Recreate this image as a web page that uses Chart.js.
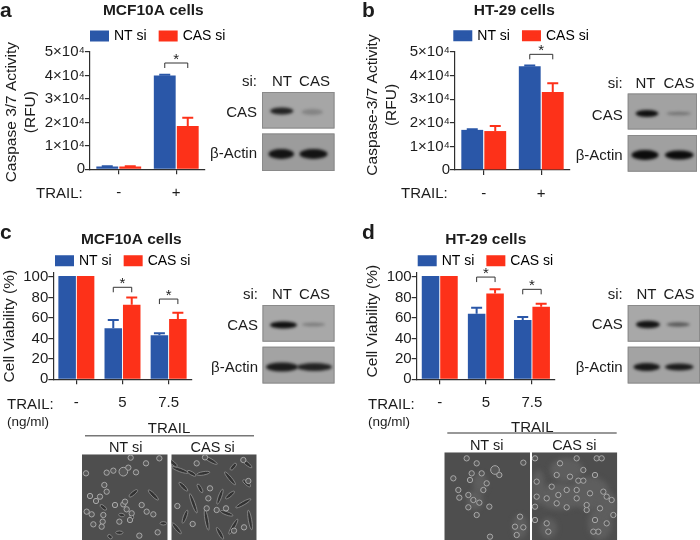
<!DOCTYPE html>
<html><head><meta charset="utf-8">
<script src="https://cdn.jsdelivr.net/npm/chart.js@4"></script>
<style>
html,body{margin:0;padding:0;background:#fff;width:700px;height:540px;overflow:hidden;font-family:"Liberation Sans",Arial,sans-serif;color:#1c1c1c}
canvas{position:absolute}
.t{position:absolute;white-space:nowrap;line-height:1;z-index:5}
</style></head><body>
<canvas id="decor" width="700" height="540" style="left:0;top:0"></canvas>
<script>
// ---------- data ----------
const seriesNames = ['NT si', 'CAS si'];
const catsTrailAB = ['-', '+'];
const catsTrailCD = ['-', '5', '7.5'];
const ticksRFU = ['0', '1×10⁴', '2×10⁴', '3×10⁴', '4×10⁴', '5×10⁴'];

const aNT = [1200, 40000];
const aCAS = [1200, 18500];
const aNTErr = [1300, 40300];
const aCASErr = [1300, 22000];

const bNT = [17000, 44000];
const bCAS = [16500, 33000];
const bNTErr = [17300, 44300];
const bCASErr = [18600, 36700];

const cNT = [101, 50, 43];
const cCAS = [101, 73, 59];
const cNTErr = [101, 58, 45];
const cCASErr = [101, 80, 65];

const dNT = [101, 64, 58];
const dCAS = [101, 84, 71];
const dNTErr = [101, 70, 61];
const dCASErr = [101, 88, 74];

// significance: [category index, bracket top value]
const aSig = [[1, 45300]];
const bSig = [[1, 49000]];
const cSig = [[1, 90], [2, 78.5]];
const dSig = [[1, 100], [2, 88]];

// ---------- shared style ----------
const BLUE = '#2a57a8', RED = '#fd3119', INK = '#1c1c1c', AXIS = '#2e2e2e';
const FONT = '"Liberation Sans", Arial, sans-serif';

const overlay = {
  id: 'overlay',
  afterLayout(chart, args, o) {
    const tb = chart.titleBlock;
    tb.left = o.titleX - 120; tb.right = o.titleX + 120; tb.top = o.titleY - 9; tb.bottom = o.titleY + 9;
    const lg = chart.legend, p = lg.options.labels.padding;
    lg.left = o.legendX + 2 - p; lg.right = lg.left + 400; lg.top = o.legendY - p - 7;
    const ys = chart.scales.y;
    if (!ys._wrappedTitle) {
      ys._wrappedTitle = true;
      const orig = ys.drawTitle;
      ys.drawTitle = function () {
        const c = this.ctx; c.save(); c.translate(o.ytDx, o.ytDy); orig.call(this); c.restore();
      };
    }
  },
  afterDatasetsDraw(chart, args, o) {
    const c = chart.ctx, y = chart.scales.y;
    chart.data.datasets.forEach((ds, di) => {
      const meta = chart.getDatasetMeta(di);
      ds.errTop.forEach((e, i) => {
        if (e <= ds.data[i]) return;
        const x = meta.data[i].x, y0 = y.getPixelForValue(ds.data[i]), y1 = y.getPixelForValue(e);
        c.save(); c.strokeStyle = ds.backgroundColor; c.lineWidth = 2;
        c.beginPath(); c.moveTo(x, y0); c.lineTo(x, y1);
        c.moveTo(x - 5.5, y1); c.lineTo(x + 5.5, y1); c.stroke(); c.restore();
      });
    });
    o.sig.forEach(([cat, val]) => {
      const x0 = chart.getDatasetMeta(0).data[cat].x, x1 = chart.getDatasetMeta(1).data[cat].x, yy = y.getPixelForValue(val);
      c.save(); c.strokeStyle = '#333'; c.lineWidth = 1;
      c.beginPath(); c.moveTo(x0, yy + 5); c.lineTo(x0, yy); c.lineTo(x1, yy); c.lineTo(x1, yy + 5); c.stroke();
      c.fillStyle = INK; c.font = '15px ' + FONT; c.textAlign = 'center'; c.textBaseline = 'middle';
      c.fillText('*', (x0 + x1) / 2, yy - 3.5); c.restore();
    });
  }
};

function panel(id, box, area, cfg) {
  const cv = document.createElement('canvas');
  cv.width = box.w; cv.height = box.h;
  cv.style.left = box.x + 'px'; cv.style.top = box.y + 'px';
  document.body.appendChild(cv);
  const padLegend = 14, legendH = 14 + 2 * padLegend, titleH = 18;
  new Chart(cv, {
    type: 'bar',
    data: {
      labels: cfg.cats,
      datasets: [
        { label: seriesNames[0], data: cfg.nt, errTop: cfg.ntErr, backgroundColor: BLUE, borderWidth: 0 },
        { label: seriesNames[1], data: cfg.cas, errTop: cfg.casErr, backgroundColor: RED, borderWidth: 0 }
      ]
    },
    plugins: [overlay],
    options: {
      responsive: false, animation: false, events: [],
      layout: { autoPadding: false, padding: { top: area.t - box.y - legendH - titleH, left: 0, right: box.x + box.w - area.r, bottom: 0 } },
      datasets: { bar: { categoryPercentage: 0.8, barPercentage: 0.95 } },
      plugins: {
        tooltip: { enabled: false },
        title: { display: true, text: cfg.title, color: INK, padding: 0, font: { family: FONT, size: 15.5, weight: 'bold', lineHeight: 1.16 } },
        legend: {
          display: true, position: 'top', align: 'start',
          labels: {
            color: INK, padding: padLegend, boxWidth: 15, boxHeight: 7,
            font: { family: FONT, size: 14 },
            generateLabels: ch => ch.data.datasets.map((d, i) => ({ text: d.label, fillStyle: d.backgroundColor, strokeStyle: d.backgroundColor, lineWidth: 4, datasetIndex: i }))
          }
        },
        overlay: { titleX: cfg.titleX, titleY: cfg.titleY, legendX: cfg.legendX, legendY: cfg.legendY, ytDx: cfg.ytDx, ytDy: cfg.ytDy, sig: cfg.sig }
      },
      scales: {
        x: {
          offset: true,
          afterFit: s => { s.height = box.y + box.h - area.b; },
          border: { color: AXIS, width: 1.2 },
          grid: { display: true, drawOnChartArea: false, drawTicks: true, offset: false, tickLength: 5, color: AXIS, lineWidth: 1.2 },
          ticks: { color: INK, padding: 10, maxRotation: 0, font: { family: FONT, size: 15 } }
        },
        y: {
          min: 0, max: cfg.max,
          afterFit: s => { s.width = area.l - box.x; },
          border: { color: AXIS, width: 1.2 },
          grid: { display: true, drawOnChartArea: false, drawTicks: true, tickLength: 5, color: AXIS, lineWidth: 1.2 },
          title: { display: true, text: cfg.yTitle, color: INK, padding: 0, font: { family: FONT, size: 15.5, lineHeight: 1.18 } },
          ticks: { color: INK, padding: 0, stepSize: cfg.step, includeBounds: false, autoSkip: false, font: { family: FONT, size: 15 },
            callback: cfg.tickLabels ? (v => cfg.tickLabels[Math.round(v / cfg.step)]) : (v => String(v)) }
        }
      }
    }
  });
}

panel('a', { x: 0, y: -8, w: 240, h: 213 }, { l: 90, r: 205, t: 56, b: 169.3 }, {
  cats: catsTrailAB, nt: aNT, cas: aCAS, ntErr: aNTErr, casErr: aCASErr, sig: aSig, max: 50000, step: 10000, tickLabels: ticksRFU,
  title: 'MCF10A cells', titleX: 153.3, titleY: 11 + 8, legendX: 90, legendY: 36 + 8,
  yTitle: ['Caspase 3/7 Activity', '(RFU)'], ytDx: 3, ytDy: 1.5
});
panel('b', { x: 360, y: -8, w: 240, h: 213 }, { l: 455, r: 570, t: 56, b: 170 }, {
  cats: catsTrailAB, nt: bNT, cas: bCAS, ntErr: bNTErr, casErr: bCASErr, sig: bSig, max: 50000, step: 10000, tickLabels: ticksRFU,
  title: 'HT-29 cells', titleX: 514.3 - 360, titleY: 11 + 8, legendX: 453.3 - 360, legendY: 35.7 + 8,
  yTitle: ['Caspase-3/7 Activity', '(RFU)'], ytDx: 4, ytDy: -6
});
panel('c', { x: 0, y: 212, w: 220, h: 205 }, { l: 53.3, r: 191.7, t: 277, b: 379.3 }, {
  cats: catsTrailCD, nt: cNT, cas: cCAS, ntErr: cNTErr, casErr: cCASErr, sig: cSig, max: 104, step: 20,
  title: 'MCF10A cells', titleX: 131.3, titleY: 239.3 - 212, legendX: 55, legendY: 260.7 - 212,
  yTitle: ['Cell Viability (%)'], ytDx: 1, ytDy: 0
});
panel('d', { x: 360, y: 212, w: 220, h: 205 }, { l: 416.7, r: 555, t: 277, b: 379.3 }, {
  cats: catsTrailCD, nt: dNT, cas: dCAS, ntErr: dNTErr, casErr: dCASErr, sig: dSig, max: 104, step: 20,
  title: 'HT-29 cells', titleX: 485.8 - 360, titleY: 239.3 - 212, legendX: 417.7 - 360, legendY: 260.7 - 212,
  yTitle: ['Cell Viability (%)'], ytDx: 4, ytDy: -5
});

// ---------- text outside the plots ----------
function text(str, x, y, align, size, weight) {
  const el = document.createElement('div');
  el.className = 't'; el.textContent = str;
  el.style.left = x + 'px'; el.style.top = y + 'px'; el.style.fontSize = (size || 15) + 'px';
  if (weight) el.style.fontWeight = weight;
  const tx = align === 'r' ? '-100%' : align === 'c' ? '-50%' : '0';
  el.style.transform = 'translate(' + tx + ',-50%)';
  document.body.appendChild(el);
}
text('a', 0, 9, 'l', 21, 'bold'); text('b', 362, 9, 'l', 21, 'bold');
text('c', 0, 231, 'l', 21, 'bold'); text('d', 362, 231, 'l', 21, 'bold');
text('TRAIL:', 36, 192); text('TRAIL:', 401, 192);
text('TRAIL:', 7, 402.5); text('TRAIL:', 368, 402.5);
text('(ng/ml)', 7, 422, 'l', 13.5); text('(ng/ml)', 368, 422, 'l', 13.5);
[[257, 80, 111, 152, 282, 314.5], [622.7, 81.5, 114, 154, 645.5, 679],
 [258, 292.7, 324.3, 366, 282, 314.5], [622.7, 292.7, 323, 366, 646.5, 679]].forEach(([r, ys, yc, yb, xn, xc]) => {
  text('si:', r, ys, 'r'); text('NT', xn, ys, 'c'); text('CAS', xc, ys, 'c');
  text('CAS', r, yc, 'r'); text('β-Actin', r, yb, 'r');
});
text('TRAIL', 169, 427, 'c'); text('NT si', 125.7, 447, 'c', 14.5); text('CAS si', 212.7, 447, 'c', 14.5);
text('TRAIL', 532.3, 425.5, 'c'); text('NT si', 486.7, 445, 'c', 14.5); text('CAS si', 574.3, 445, 'c', 14.5);

// ---------- photographic insets (blots and micrographs) ----------
const d = document.getElementById('decor').getContext('2d');
function blot(x0, x1, y0, y1, bg, bands) {
  d.fillStyle = bg; d.fillRect(x0, y0, x1 - x0, y1 - y0);
  d.strokeStyle = '#8a8a8a'; d.lineWidth = 1; d.strokeRect(x0 + .5, y0 + .5, x1 - x0 - 1, y1 - y0 - 1);
  d.save(); d.beginPath(); d.rect(x0, y0, x1 - x0, y1 - y0); d.clip();
  bands.forEach(([a, b, y, h, al]) => {
    d.filter = 'blur(1.6px)'; d.fillStyle = 'rgba(12,12,12,' + al + ')';
    d.beginPath(); d.ellipse((a + b) / 2, y, (b - a) / 2, h / 2, 0, 0, 7); d.fill();
  });
  d.restore(); d.filter = 'none';
}
blot(262, 334.5, 92, 128.5, '#a6a6a6', [[270, 293.5, 111, 7, .85], [301.5, 323, 112, 6, .22]]);
blot(262, 334.5, 133.5, 171, '#9c9c9c', [[268.5, 294, 154, 10, .95], [299.5, 327.5, 154, 10, .95]]);
blot(627.7, 697, 93.5, 129.5, '#a2a2a2', [[635.5, 658.5, 113.5, 7, .98], [666.5, 691, 113.5, 3.5, .3]]);
blot(627.7, 697, 135, 171.7, '#a0a0a0', [[631.5, 658.5, 155, 10, 1], [665, 693.5, 155, 9, 1]]);
blot(262.5, 334.5, 305, 341.7, '#a8a8a8', [[270, 297, 325, 7, .98], [302, 325, 324.5, 3.5, .28]]);
blot(262.5, 334.5, 346.7, 383.5, '#a3a3a3', [[266, 298, 367, 9, .9], [297, 332, 367, 8, .85]]);
blot(627.7, 700, 305, 341.7, '#a8a8a8', [[636, 660, 324.5, 7.5, .95], [666.5, 690, 324.5, 4.5, .5]]);
blot(627.7, 700, 346.7, 383.5, '#a3a3a3', [[633.5, 660, 367, 8, .92], [665, 693.5, 367, 7, .9]]);

function micro(x0, x1, y0, y1, ox, oy, rounds, spindles, blobs) {
  d.save(); d.beginPath(); d.rect(x0, y0, x1 - x0, y1 - y0); d.clip();
  d.fillStyle = '#4e4e4e'; d.fillRect(x0, y0, x1 - x0, y1 - y0);
  (blobs || []).forEach(([x, y, rx, ry]) => {
    d.filter = 'blur(2.5px)'; d.fillStyle = '#5e5e5e'; d.beginPath();
    d.ellipse(ox + x / 3, oy + y / 3, rx / 3, ry / 3, 0, 0, 7); d.fill();
  });
  d.filter = 'blur(0.7px)';
  (spindles || []).forEach(([x, y, ang, len]) => {
    d.fillStyle = '#333'; d.strokeStyle = '#8c8c8c'; d.lineWidth = .9; d.beginPath();
    d.ellipse(ox + x / 3, oy + y / 3, len / 6, 1.7, ang * Math.PI / 180, 0, 7); d.fill(); d.stroke();
  });
  rounds.forEach(([x, y, r]) => {
    d.fillStyle = '#585858'; d.strokeStyle = '#a8a8a8'; d.lineWidth = 1; d.beginPath();
    d.arc(ox + x / 3, oy + y / 3, (r || 8) / 3, 0, 7); d.fill(); d.stroke();
  });
  d.restore(); d.filter = 'none';
}
micro(82, 167.7, 454.3, 540, 60, 420,
  [[212,113],[258,130],[298,115],[78,160],[140,158],[160,152],[190,155,13],[205,143],[228,157],[133,195],[140,215],[90,228],[120,230],[108,243],[165,255],[190,253],[195,245],[245,255],[260,275],[280,283],[80,275],[95,283],[130,285],[128,305],[100,313],[125,320],[200,268],[215,280],[178,305],[210,300],[293,337],[238,347]],
  [[220,220,-40,32],[280,225,45,42],[178,338,0,22],[130,262,40,24],[215,288,70,20],[310,310,0,20],[185,285,10,18],[150,350,40,16]]);
micro(171.3, 256.7, 454.3, 540, 60, 420,
  [[410,130],[435,112],[550,120],[450,205],[470,270],[440,265],[498,265],[352,258],[398,312],[522,332],[552,322],[565,183],[445,235]],
  [[360,150,20,52],[400,250,70,62],[480,230,-70,48],[370,200,45,36],[510,175,50,50],[430,160,-10,40],[450,120,30,50],[560,130,40,40],[550,250,-30,52],[350,325,50,42],[375,290,-70,42],[440,300,80,62],[520,320,-60,52],[480,340,60,40],[570,300,80,60],[560,190,40,30],[500,280,20,40],[340,130,40,30],[520,140,-50,26],[420,205,60,30],[510,225,-40,34],[395,160,30,30]]);
micro(444.3, 530, 452.3, 540, 420, 420,
  [[140,115],[170,130],[310,128],[100,175],[155,160],[185,160],[150,180],[190,210],[225,150,13],[238,165],[115,210],[118,233],[145,262],[170,285],[208,260],[300,290],[310,322],[285,320],[290,345],[200,190],[210,350],[160,240],[178,248],[145,225]],
  [], [[165,240,24,30],[180,190,22,30],[300,320,22,36]]);
micro(532, 617.3, 452.3, 540, 420, 420,
  [[345,115],[420,130],[470,115],[530,115],[545,115],[410,165],[475,182],[490,182],[440,210],[350,185],[350,230],[380,235],[415,225],[470,235],[510,220],[525,165],[440,262],[500,270],[540,265],[560,230],[575,240],[525,300],[560,310],[535,335],[380,310],[385,335],[345,300],[345,260],[550,215],[395,200],[450,170],[490,150],[500,255],[580,285],[520,335],[410,250],[470,210]],
  [], [[440,150,50,36],[420,230,70,40],[510,220,60,50],[540,310,36,50],[385,325,26,30],[355,200,20,50],[565,255,28,36]]);
d.strokeStyle = '#777'; d.lineWidth = 1.4;
d.beginPath(); d.moveTo(85, 435.7); d.lineTo(254, 435.7); d.moveTo(447.3, 433); d.lineTo(616.7, 433); d.stroke();
</script>
</body></html>
